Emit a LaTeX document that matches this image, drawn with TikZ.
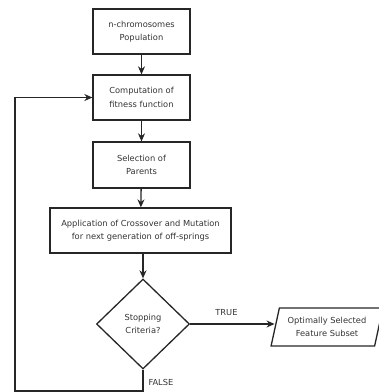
\documentclass[tikz,border=0pt]{standalone}
\usepackage{fontspec}
\setmainfont{DejaVu Sans}
\usepackage{tikz}
\usetikzlibrary{shapes.geometric, arrows, arrows.meta}
\tikzstyle{process} = [rectangle, draw=black!85, line width=1.3pt, minimum width=97pt, minimum height=45pt, inner sep=2pt, align=center, text=black!80, font=\fontsize{8.3}{13.5}\selectfont]
\tikzstyle{decision} = [diamond, draw=black!85, line width=1.3pt, minimum width=93pt, minimum height=90pt, inner sep=0pt, align=center, text=black!80, font=\fontsize{8.3}{13.5}\selectfont]
\tikzstyle{io} = [trapezium, trapezium left angle=71, trapezium right angle=109, trapezium stretches=true, draw=black!85, line width=1.3pt, minimum width=112pt, minimum height=38pt, inner xsep=4pt, inner ysep=1pt, align=center, text=black!80, font=\fontsize{8.3}{13.5}\selectfont]
\tikzstyle{arrow} = [line width=1.3pt, draw=black!85, -{Stealth[length=8pt,width=7pt]}]

\begin{document}
\begin{tikzpicture}[x=1pt,y=-1pt]
	\useasboundingbox (0,0) rectangle (379,392);
	
	% Boxes:
	\node [process] (pop) at (141.5,31.5) {n-chromosomes\\Population};
	\node [process] (fit) at (141.5,97.5) {Computation of\\fitness function};
	\node [process, minimum height=46pt] (sel) at (141.5,165) {Selection of\\Parents};
	\node [process, minimum width=181pt] (cross) at (140.5,230.5) {Application of Crossover and Mutation\\for next generation of off-springs};
	\node [decision] (stop) at (143,324) {Stopping\\Criteria?};
	\node [io] (subset) at (327,327) {Optimally Selected\\Feature Subset};
	
	% Arrows:
	\draw [arrow] (pop) -- (fit);
	\draw [arrow] (fit) -- (sel);
	\draw [arrow] (sel) -- (cross);
	\draw [arrow] (cross.south -| stop.north) -- (stop);
	\draw [arrow] (stop.east) -- (stop.east -| subset.west) node [pos=0.43, above=4pt, text=black!80, font=\fontsize{8.3}{13.5}\selectfont] {TRUE};
	
	% Loop back:
	\coordinate (loop) at (15,391);
	\draw [arrow] (stop.south) |- (loop) |- (fit.west);
	\node [text=black!80, font=\fontsize{8.3}{13.5}\selectfont, anchor=west] (false) at (145,382) {FALSE};
	
\end{tikzpicture}
\end{document}
